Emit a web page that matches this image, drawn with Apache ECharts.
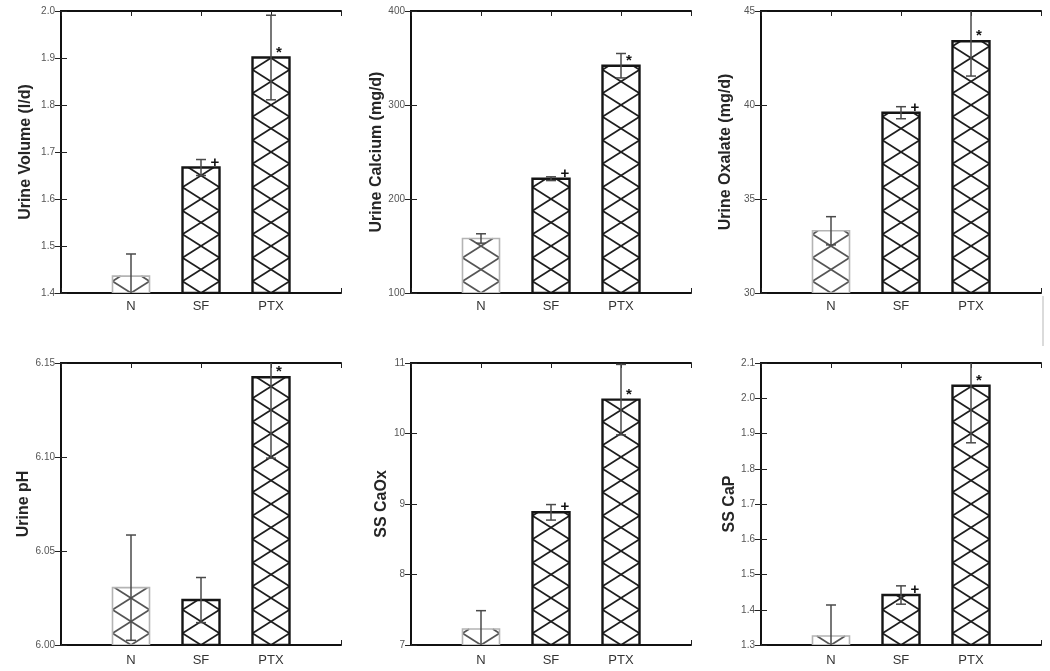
<!DOCTYPE html>
<html>
<head>
<meta charset="utf-8">
<script src="https://cdn.jsdelivr.net/npm/echarts@6/dist/echarts.min.js"></script>
<style>
  html, body { margin: 0; padding: 0; background: #fff; }
  #chart { width: 1050px; height: 671px; }
</style>
</head>
<body>
<div id="chart"></div>
<script>
// groups on the x axis (placed at 1, 2, 3 on a 0..4 axis, like the original plot)
var categories = ['N', 'SF', 'PTX'];

// means and error bar half-lengths
var volumeMean = [1.436, 1.667, 1.901];
var volumeErr = [0.047, 0.017, 0.09];
var calciumMean = [158, 221.6, 341.8];
var calciumErr = [5, 2, 13];
var oxalateMean = [33.31, 39.59, 43.39];
var oxalateErr = [0.75, 0.32, 1.85];
var phMean = [6.0305, 6.0239, 6.1424];
var phErr = [0.028, 0.012, 0.043];
var caoxMean = [7.227, 8.882, 10.48];
var caoxErr = [0.26, 0.11, 0.5];
var capMean = [1.3255, 1.4418, 2.0356];
var capErr = [0.088, 0.026, 0.162];

// significance marks
var marksMain = ['', '+', '*'];
var marksPh = ['', '', '*'];

// y axis ranges [min, max, step]
var volumeTicks = [1.4, 2.0, 0.1];
var calciumTicks = [100, 400, 100];
var oxalateTicks = [30, 45, 5];
var phTicks = [6.00, 6.15, 0.05];
var caoxTicks = [7, 11, 1];
var capTicks = [1.3, 2.1, 0.1];

var panels = [
  {name: 'Urine Volume (l/d)', mean: volumeMean, err: volumeErr, marks: marksMain, ticks: volumeTicks, dec: 1, gap: 27},
  {name: 'Urine Calcium (mg/d)', mean: calciumMean, err: calciumErr, marks: marksMain, ticks: calciumTicks, dec: 0, gap: 24},
  {name: 'Urine Oxalate (mg/d)', mean: oxalateMean, err: oxalateErr, marks: marksMain, ticks: oxalateTicks, dec: 0, gap: 27},
  {name: 'Urine pH', mean: phMean, err: phErr, marks: marksPh, ticks: phTicks, dec: 2, gap: 28},
  {name: 'SS CaOx', mean: caoxMean, err: caoxErr, marks: marksMain, ticks: caoxTicks, dec: 0, gap: 15},
  {name: 'SS CaP', mean: capMean, err: capErr, marks: marksMain, ticks: capTicks, dec: 1, gap: 20}
];

var chart = echarts.init(document.getElementById('chart'));

var lefts = [61, 411, 761];
var tops = [11, 363];
var FONT = '"Liberation Sans", Arial, sans-serif';
var barColors = [
  {edge: '#b4b4b4', hatch: '#555', edgeWidth: 1.6},
  {edge: '#151515', hatch: '#1e1e1e', edgeWidth: 2.4},
  {edge: '#151515', hatch: '#1e1e1e', edgeWidth: 2.4}
];
var markDx = [0, 14, 8];

function hatchLines(L, R, T, B, color) {
  // cross hatching: two families of diagonals crossing at bar centre and edges
  var W = R - L, P = 23.5;
  var out = [];
  if (B - T < 1) return out;
  for (var k = -2; k * P < (B - T) + 2 * P; k++) {
    var yk = B - P / 2 - k * P;
    [[yk, yk + P], [yk + P, yk]].forEach(function (seg) {
      // line from (L, seg[0]) to (R, seg[1]); clipped to [T, B]
      var y0 = seg[0], y1 = seg[1];
      var m = (y1 - y0) / W;
      var xa = L, xb = R;
      function yAt(x) { return y0 + m * (x - L); }
      if (m > 0) {
        xa = Math.max(xa, L + (T - y0) / m);
        xb = Math.min(xb, L + (B - y0) / m);
      } else {
        xa = Math.max(xa, L + (B - y0) / m);
        xb = Math.min(xb, L + (T - y0) / m);
      }
      if (xb - xa > 0.5) {
        out.push({
          type: 'line',
          shape: {x1: xa, y1: yAt(xa), x2: xb, y2: yAt(xb)},
          style: {stroke: color, lineWidth: 1.7}
        });
      }
    });
  }
  return out;
}

function makeRender(p) {
  return function (params, api) {
    var i = params.dataIndex;
    var x = api.value(0), v = api.value(1), e = api.value(2);
    var top = api.coord([x, v]);
    var base = api.coord([x, p.ticks[0]]);
    var half = 18.5;
    var L = top[0] - half, R = top[0] + half, T = top[1], B = base[1];
    var c = barColors[i];
    var kids = [];
    kids.push({type: 'rect', shape: {x: L, y: T, width: R - L, height: B - T},
      style: {fill: '#fff', stroke: null}});
    kids = kids.concat(hatchLines(L, R, T, B, c.hatch));
    kids.push({type: 'rect', shape: {x: L, y: T, width: R - L, height: B - T},
      style: {fill: null, stroke: c.edge, lineWidth: c.edgeWidth}});
    var eTop = api.coord([x, v + e])[1];
    var eBot = api.coord([x, v - e])[1];
    var ec = '#4a4a4a';
    kids.push({type: 'line', shape: {x1: top[0], y1: eTop, x2: top[0], y2: eBot}, style: {stroke: ec, lineWidth: 1.5}});
    kids.push({type: 'line', shape: {x1: top[0] - 5, y1: eTop, x2: top[0] + 5, y2: eTop}, style: {stroke: ec, lineWidth: 1.5}});
    kids.push({type: 'line', shape: {x1: top[0] - 5, y1: eBot, x2: top[0] + 5, y2: eBot}, style: {stroke: ec, lineWidth: 1.5}});
    var mk = p.marks[i];
    if (mk) {
      kids.push({type: 'text', x: top[0] + markDx[i], y: T - 5,
        style: {text: mk, fill: '#111', font: 'bold 15px ' + FONT, align: 'center', verticalAlign: 'middle'}});
    }
    return {type: 'group', children: kids};
  };
}

var grids = [], xAxes = [], yAxes = [], series = [];
panels.forEach(function (p, n) {
  var row = Math.floor(n / 3);
  grids.push({left: lefts[n % 3], top: tops[row], width: 280, height: 282});
  var frame = {lineStyle: {color: '#111', width: 2}};
  xAxes.push({
    gridIndex: n, type: 'value', min: 0, max: 4, interval: 1,
    axisLine: frame,
    axisTick: {inside: true, length: 5, lineStyle: {color: '#222'}},
    splitLine: {show: false},
    axisLabel: {
      margin: row ? 9 : 7, color: '#333', fontFamily: FONT, fontSize: 13,
      formatter: function (val) { return categories[val - 1] || ''; }
    }
  });
  xAxes.push({
    gridIndex: n, type: 'value', min: 0, max: 4, interval: 1, position: 'top',
    axisLine: frame,
    axisTick: {inside: true, length: 5, lineStyle: {color: '#222'}},
    splitLine: {show: false}, axisLabel: {show: false}
  });
  yAxes.push({
    gridIndex: n, type: 'value', min: p.ticks[0], max: p.ticks[1], interval: p.ticks[2],
    name: p.name, nameLocation: 'middle', nameGap: p.gap,
    nameTextStyle: {fontFamily: FONT, fontSize: 16, fontWeight: 'bold', color: '#262626'},
    axisLine: frame,
    axisTick: {inside: true, length: 6, lineStyle: {color: '#222'}},
    splitLine: {show: false},
    axisLabel: {
      margin: 6, color: '#555', fontFamily: FONT, fontSize: 10,
      formatter: function (val) { return val.toFixed(p.dec); }
    }
  });
  yAxes.push({
    gridIndex: n, type: 'value', min: p.ticks[0], max: p.ticks[1], interval: p.ticks[2], position: 'right',
    axisLine: frame,
    axisTick: {inside: true, length: 6, lineStyle: {color: '#222'}},
    splitLine: {show: false}, axisLabel: {show: false}
  });
  var data = categories.map(function (cat, i) { return [i + 1, p.mean[i], p.err[i]]; });
  series.push({
    type: 'custom',
    xAxisIndex: n * 2, yAxisIndex: n * 2,
    clip: true,
    renderItem: makeRender(p),
    data: data,
    silent: true
  });
});

chart.setOption({
  animation: false,
  backgroundColor: '#fff',
  grid: grids,
  xAxis: xAxes,
  yAxis: yAxes,
  series: series,
  graphic: [{
    type: 'line', silent: true,
    shape: {x1: 1043, y1: 296, x2: 1043, y2: 346},
    style: {stroke: '#cfcfcf', lineWidth: 1.5}
  }]
});
</script>
</body>
</html>
